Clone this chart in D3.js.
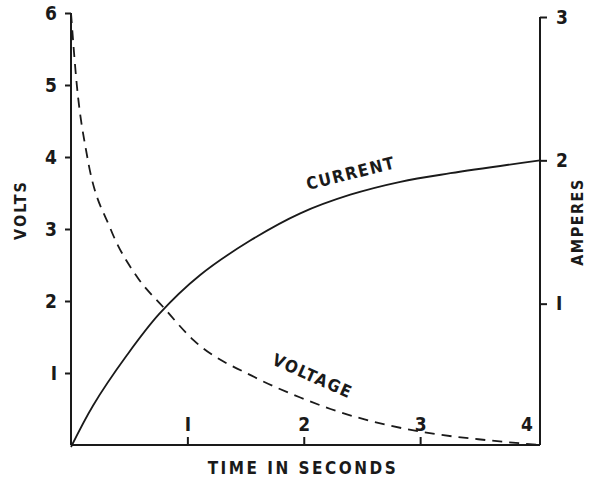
<!DOCTYPE html>
<html>
<head>
<meta charset="utf-8">
<script src="https://d3js.org/d3.v7.min.js"></script>
<style>
  body { margin: 0; background: #fff; }
  text { font-family: "DejaVu Sans", sans-serif; font-stretch: condensed; font-weight: bold; fill: #1a1a1a; }
</style>
</head>
<body>
<div id="chart"></div>
<script>
// values
var voltTime = [0, 0.05, 0.14, 0.34, 0.57, 0.79, 1.05, 1.58, 1.97, 2.23, 2.74, 3.14, 3.5, 4.03];
var voltValues = [6.0, 5.0, 4.0, 3.0, 2.33, 1.92, 1.46, 0.94, 0.66, 0.5, 0.27, 0.15, 0.08, 0.0];

var currTime = [0, 0.19, 0.48, 0.76, 1.11, 1.54, 1.97, 2.4, 2.83, 3.26, 4.03];
var currValues = [0, 0.29, 0.64, 0.93, 1.2, 1.44, 1.63, 1.76, 1.85, 1.91, 2.0];

var timeTicks = [1, 2, 3, 4];
var voltTicks = [1, 2, 3, 4, 5, 6];
var ampTicks = [1, 2, 3];

var w = 592, h = 481;
var ink = "#1a1a1a";

var svg = d3.select("#chart").append("svg")
    .attr("width", w)
    .attr("height", h);

var x = d3.scaleLinear().domain([0, 4.03]).range([71, 540]);
var yV = d3.scaleLinear().domain([0, 6]).range([445, 13]);
var yI = d3.scaleLinear().domain([0, 3]).range([447, 17]);

// axis lines
svg.append("line").attr("x1", x(0)).attr("x2", x(0)).attr("y1", yV(6)).attr("y2", yV(0))
    .attr("stroke", ink).attr("stroke-width", 2);
svg.append("line").attr("x1", x(4.03)).attr("x2", x(4.03)).attr("y1", yI(3)).attr("y2", yV(0))
    .attr("stroke", ink).attr("stroke-width", 2);
svg.append("line").attr("x1", x(0)).attr("x2", x(4.03)).attr("y1", yV(0)).attr("y2", yV(0))
    .attr("stroke", ink).attr("stroke-width", 2);

// left axis: ticks out to the left
var leftAxis = d3.axisLeft(yV).tickValues(voltTicks).tickSize(6).tickPadding(8)
    .tickFormat(function (d) { return d === 1 ? "I" : d; });
var gl = svg.append("g").attr("transform", "translate(" + x(0) + ",0)").call(leftAxis);

// right axis: ticks out to the right
var rightAxis = d3.axisRight(yI).tickValues(ampTicks).tickSize(7).tickPadding(9)
    .tickFormat(function (d) { return d === 1 ? "I" : d; });
var gr = svg.append("g").attr("transform", "translate(" + x(4.03) + ",0)").call(rightAxis);

// bottom axis: ticks point up into the plot, labels sit above them
var bottomAxis = d3.axisTop(x).tickValues(timeTicks).tickSize(8).tickPadding(6)
    .tickFormat(function (d) { return d === 1 ? "I" : d; });
var gb = svg.append("g").attr("transform", "translate(0," + yV(0) + ")").call(bottomAxis);

[gl, gr, gb].forEach(function (g) {
    g.select(".domain").remove();
    g.selectAll(".tick line").attr("stroke", ink).attr("stroke-width", 2);
    g.selectAll(".tick text").attr("font-size", 19).attr("fill", ink)
        .style("font-family", "'DejaVu Sans', sans-serif")
        .style("font-stretch", "condensed")
        .style("font-weight", "bold");
});
// the "4" is crowded against the right axis
gb.selectAll(".tick").filter(function (d) { return d === 4; }).select("line").remove();
gb.selectAll(".tick").filter(function (d) { return d === 4; }).select("text").attr("dx", -10);

// curves
var voltData = voltTime.map(function (t, i) { return [t, voltValues[i]]; });
var currData = currTime.map(function (t, i) { return [t, currValues[i]]; });

var voltLine = d3.line()
    .x(function (d) { return x(d[0]); })
    .y(function (d) { return yV(d[1]); })
    .curve(d3.curveMonotoneX);

var currLine = d3.line()
    .x(function (d) { return x(d[0]); })
    .y(function (d) { return yI(d[1]); })
    .curve(d3.curveCatmullRom.alpha(0.5));

svg.append("path").datum(currData).attr("d", currLine)
    .attr("fill", "none").attr("stroke", ink).attr("stroke-width", 1.8);

svg.append("path").datum(voltData).attr("d", voltLine)
    .attr("fill", "none").attr("stroke", ink).attr("stroke-width", 1.8)
    .attr("stroke-dasharray", "10,7");

// curve labels
svg.append("text").text("CURRENT")
    .attr("transform", "translate(308,190) rotate(-14)")
    .attr("font-size", 17).attr("letter-spacing", 1.5);

svg.append("text").text("VOLTAGE")
    .attr("transform", "translate(271,364) rotate(24)")
    .attr("font-size", 17).attr("letter-spacing", 1.5);

// axis titles
svg.append("text").text("TIME IN SECONDS")
    .attr("x", 303).attr("y", 474).attr("text-anchor", "middle")
    .attr("font-size", 17).attr("letter-spacing", 2.5);

svg.append("text").text("VOLTS")
    .attr("transform", "translate(26,210) rotate(-90)")
    .attr("text-anchor", "middle")
    .attr("font-size", 16).attr("letter-spacing", 2);

svg.append("text").text("AMPERES")
    .attr("transform", "translate(583,222) rotate(-90)")
    .attr("text-anchor", "middle")
    .attr("font-size", 16).attr("letter-spacing", 1.5);
</script>
</body>
</html>
